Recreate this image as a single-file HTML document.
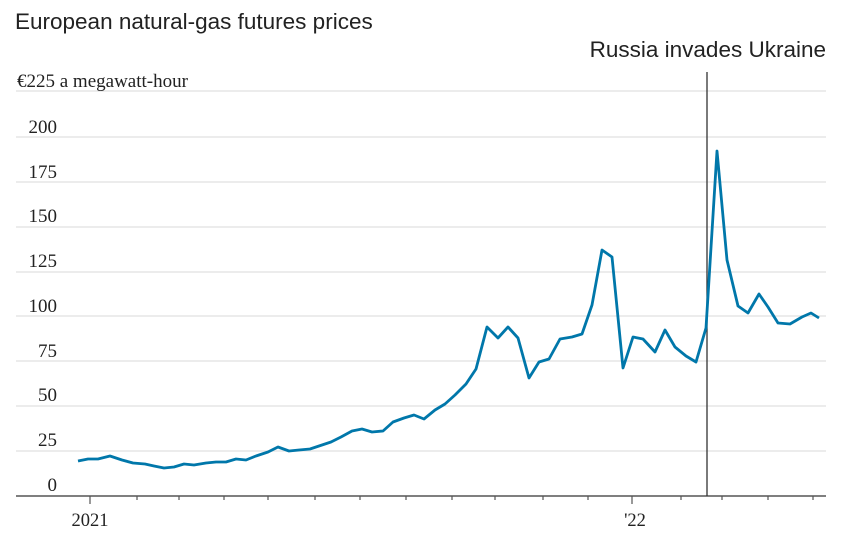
<!DOCTYPE html>
<html><head><meta charset="utf-8"><style>
body{margin:0;background:#fff;}
svg{display:block;}
</style></head><body>
<svg width="846" height="551" xmlns="http://www.w3.org/2000/svg">
<text x="15" y="29" font-family="Liberation Sans, sans-serif" font-size="22.5" fill="#222">European natural-gas futures prices</text>
<text x="826" y="57" text-anchor="end" font-family="Liberation Sans, sans-serif" font-size="22.5" fill="#222">Russia invades Ukraine</text>
<g stroke="#e6e6e6" stroke-width="1.5">
<line x1="16" x2="826" y1="91" y2="91"/>
<line x1="16" x2="826" y1="137" y2="137"/>
<line x1="16" x2="826" y1="182" y2="182"/>
<line x1="16" x2="826" y1="227" y2="227"/>
<line x1="16" x2="826" y1="272" y2="272"/>
<line x1="16" x2="826" y1="316" y2="316"/>
<line x1="16" x2="826" y1="361" y2="361"/>
<line x1="16" x2="826" y1="406" y2="406"/>
<line x1="16" x2="826" y1="451" y2="451"/>
</g>
<g font-family="Liberation Serif, serif" font-size="19" fill="#222" text-anchor="end">
<text x="57" y="133">200</text>
<text x="57" y="178">175</text>
<text x="57" y="222">150</text>
<text x="57" y="267">125</text>
<text x="57" y="312">100</text>
<text x="57" y="357">75</text>
<text x="57" y="401">50</text>
<text x="57" y="446">25</text>
<text x="57" y="491">0</text>
</g>
<text x="17" y="87" font-family="Liberation Serif, serif" font-size="19" fill="#222">€225 a megawatt-hour</text>
<line x1="16" x2="826" y1="496" y2="496" stroke="#555" stroke-width="1.5"/>
<g stroke="#555" stroke-width="1.2">
<line x1="90" x2="90" y1="496" y2="504"/>
<line x1="632" x2="632" y1="496" y2="504"/>
<line x1="137" x2="137" y1="496" y2="500"/><line x1="179" x2="179" y1="496" y2="500"/>
<line x1="224" x2="224" y1="496" y2="500"/><line x1="268" x2="268" y1="496" y2="500"/>
<line x1="315" x2="315" y1="496" y2="500"/><line x1="360" x2="360" y1="496" y2="500"/>
<line x1="406" x2="406" y1="496" y2="500"/><line x1="452" x2="452" y1="496" y2="500"/>
<line x1="495" x2="495" y1="496" y2="500"/><line x1="543" x2="543" y1="496" y2="500"/>
<line x1="588" x2="588" y1="496" y2="500"/><line x1="681" x2="681" y1="496" y2="500"/>
<line x1="722" x2="722" y1="496" y2="500"/><line x1="768" x2="768" y1="496" y2="500"/>
<line x1="813" x2="813" y1="496" y2="500"/>
</g>
<g font-family="Liberation Serif, serif" font-size="18.5" fill="#222" text-anchor="middle">
<text x="90" y="526">2021</text>
<text x="635" y="526">'22</text>
</g>
<line x1="707" x2="707" y1="72" y2="496" stroke="#333" stroke-width="1.3"/>
<polyline fill="none" stroke="#0077aa" stroke-width="2.8" stroke-linejoin="round" points="78,461 88,459 98,459 110,456 122,460 133,463 145,464 154,466 164,468 174,467 184,464 194,465 206,463 216,462 226,462 236,459 246,460 256,456 268,452 278,447 289,451 299,450 310,449 322,445 331,442 341,437 352,431 362,429 372,432 383,431 393,422 404,418 414,415 424,419 435,410 445,404 455,395 466,384 476,369 487,327 498,338 508,327 518,338 529,378 539,362 549,359 560,339 572,337 582,334 592,305 602,250 612,257 623,368 633,337 643,339 655,352 665,330 675,347 686,356 696,362 706,328 717,151 727,260 738,306 748,313 759,294 768,307 778,323 790,324 802,317 811,313 819,318"/>
</svg>
</body></html>
